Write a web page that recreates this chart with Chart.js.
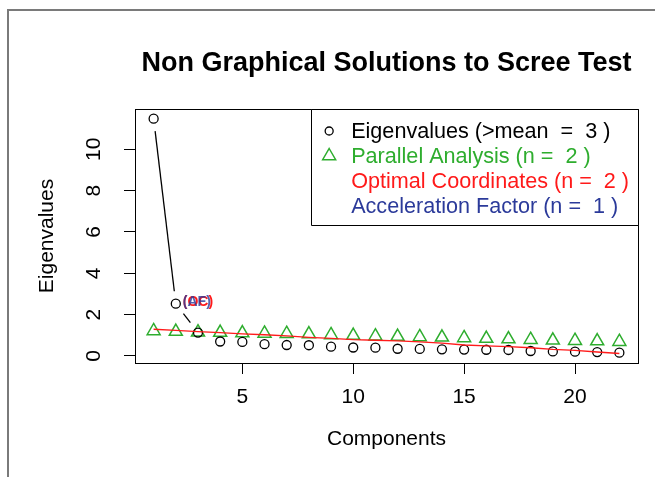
<!DOCTYPE html>
<html>
<head>
<meta charset="utf-8">
<script src="https://cdn.jsdelivr.net/npm/chart.js@4.4.1/dist/chart.umd.min.js"></script>
<style>
  html, body { margin: 0; padding: 0; background: #ffffff; }
  canvas { display: block; }
</style>
</head>
<body>
<canvas id="chart" width="655" height="477"></canvas>
<script>
// ---- Data ----
const components = [1, 2, 3, 4, 5, 6, 7, 8, 9, 10, 11, 12, 13, 14, 15, 16, 17, 18, 19, 20, 21, 22];
const eigenvalues = [11.48, 2.53, 1.13, 0.70, 0.68, 0.57, 0.53, 0.52, 0.45, 0.41, 0.40, 0.35, 0.34, 0.32, 0.31, 0.30, 0.29, 0.24, 0.22, 0.21, 0.19, 0.16];
const parallelAnalysis = [1.21, 1.18, 1.15, 1.13, 1.11, 1.09, 1.08, 1.06, 1.02, 0.99, 0.96, 0.94, 0.92, 0.90, 0.87, 0.84, 0.82, 0.79, 0.76, 0.74, 0.72, 0.69];
const optimalCoordinates = [1.29, 1.24, 1.18, 1.13, 1.07, 1.03, 0.97, 0.90, 0.85, 0.79, 0.76, 0.73, 0.68, 0.62, 0.53, 0.49, 0.45, 0.40, 0.32, 0.27, 0.19, 0.12];
const accelerationComponents = [1, 2, 3];
const xTicks = [5, 10, 15, 20];
const yTicks = [0, 2, 4, 6, 8, 10];
const titleText = "Non Graphical Solutions to Scree Test";
const xLabel = "Components";
const yLabel = "Eigenvalues";
const legendLabels = [
  "Eigenvalues (>mean  =  3 )",
  "Parallel Analysis (n =  2 )",
  "Optimal Coordinates (n =  2 )",
  "Acceleration Factor (n =  1 )"
];
const ocLabel = "(OC)";
const afLabel = "(AF)";
const labelComponent = 2;

// ---- Styling ----
const FONT = "'Liberation Sans', Arial, Helvetica, sans-serif";
const GREEN = "#2EAD2E";
const RED = "#FF1A1A";
const BLUE = "#2B3A9A";
const BLACK = "#000000";

const pts = (xs, ys) => xs.map((x, i) => ({ x: x, y: ys[i] }));

const framePlugin = {
  id: 'frame',
  beforeDraw(chart) {
    const ctx = chart.ctx;
    ctx.save();
    ctx.fillStyle = '#ffffff';
    ctx.fillRect(0, 0, chart.width, chart.height);
    ctx.strokeStyle = '#7a7a7a';
    ctx.lineWidth = 2;
    ctx.beginPath();
    ctx.moveTo(8, chart.height);
    ctx.lineTo(8, 10);
    ctx.lineTo(chart.width, 10);
    ctx.stroke();
    ctx.restore();
  }
};

const decorPlugin = {
  id: 'decor',
  afterDraw(chart) {
    const ctx = chart.ctx;
    const a = chart.chartArea;
    const xs = chart.scales.x, ys = chart.scales.y;
    const al = v => Math.round(v - 0.5) + 0.5;
    ctx.save();
    // plot box
    ctx.strokeStyle = BLACK;
    ctx.lineWidth = 1;
    ctx.strokeRect(al(a.left), al(a.top), al(a.right) - al(a.left), al(a.bottom) - al(a.top));

    // rotated y tick labels (R style)
    ctx.fillStyle = BLACK;
    ctx.font = "21px " + FONT;
    ctx.textAlign = 'center';
    ctx.textBaseline = 'alphabetic';
    ys.ticks.forEach(t => {
      const y = ys.getPixelForValue(t.value);
      ctx.save();
      ctx.translate(a.left - 35, y);
      ctx.rotate(-Math.PI / 2);
      ctx.fillText(String(t.value), 0, 0);
      ctx.restore();
    });

    // (OC) and (AF) labels next to the component they point to
    const lx = xs.getPixelForValue(labelComponent) + 7;
    const ly = ys.getPixelForValue(eigenvalues[labelComponent - 1]) - 2;
    ctx.font = "bold 14px " + FONT;
    ctx.textAlign = 'left';
    ctx.textBaseline = 'middle';
    ctx.fillStyle = RED;
    ctx.fillText(ocLabel, lx, ly);
    ctx.fillStyle = BLUE;
    ctx.globalAlpha = 0.8;
    ctx.fillText(afLabel, lx, ly);
    ctx.globalAlpha = 1;

    // legend (top right, inside plot)
    ctx.font = "21.6px " + FONT;
    const maxW = Math.max(...legendLabels.map(s => ctx.measureText(s).width));
    const textLeftPad = 40, rightPad = 9, rowH = 25, topPad = 22;
    const boxH = 116;
    const bx = a.right - rightPad - maxW - textLeftPad;
    ctx.strokeStyle = BLACK;
    ctx.lineWidth = 1;
    ctx.fillStyle = '#ffffff';
    ctx.beginPath();
    ctx.rect(al(bx), al(a.top), al(a.right) - al(bx), boxH);
    ctx.fill();
    ctx.stroke();
    const colors = [BLACK, GREEN, RED, BLUE];
    const symX = bx + 18;
    legendLabels.forEach((s, i) => {
      const cy = a.top + topPad + rowH * i + (i > 1 ? 0.5 : 0);
      ctx.fillStyle = colors[i];
      ctx.textAlign = 'left';
      ctx.textBaseline = 'middle';
      ctx.fillText(s, bx + textLeftPad, cy + 1);
      if (i === 0) {
        ctx.strokeStyle = BLACK; ctx.lineWidth = 1.3;
        ctx.beginPath(); ctx.arc(symX, cy, 4, 0, Math.PI * 2); ctx.stroke();
      } else if (i === 1) {
        const r = 7.5;
        ctx.strokeStyle = GREEN; ctx.lineWidth = 1.5;
        ctx.beginPath();
        ctx.moveTo(symX, cy - r);
        ctx.lineTo(symX + r * 0.866, cy + r * 0.5);
        ctx.lineTo(symX - r * 0.866, cy + r * 0.5);
        ctx.closePath(); ctx.stroke();
      }
    });
    ctx.restore();
  }
};

const GAP = 12.5;
new Chart(document.getElementById('chart'), {
  type: 'scatter',
  data: {
    datasets: [
      {
        label: 'OC',
        data: pts(components, optimalCoordinates),
        showLine: true,
        borderColor: RED,
        borderWidth: 1.4,
        pointRadius: 0,
        order: 1
      },
      {
        label: 'Eigenvalues',
        data: pts(components, eigenvalues),
        showLine: false,
        pointStyle: 'circle',
        pointRadius: 4.5,
        pointBorderWidth: 1.3,
        pointBorderColor: BLACK,
        pointBackgroundColor: 'rgba(0,0,0,0)',
        order: 2
      },
      {
        label: 'Parallel',
        data: pts(components, parallelAnalysis),
        showLine: false,
        pointStyle: 'triangle',
        pointRadius: 7.5,
        pointBorderWidth: 1.5,
        pointBorderColor: GREEN,
        pointBackgroundColor: 'rgba(0,0,0,0)',
        order: 3
      },
      {
        label: 'AF',
        data: pts(accelerationComponents, accelerationComponents.map(c => eigenvalues[c - 1])),
        showLine: true,
        borderColor: BLACK,
        borderWidth: 1.3,
        pointRadius: 0,
        order: 4,
        segment: {
          borderDash: ctx => {
            const L = Math.hypot(ctx.p1.x - ctx.p0.x, ctx.p1.y - ctx.p0.y);
            return [Math.max(L - 2 * GAP, 0.01), 2 * GAP];
          },
          borderDashOffset: ctx => {
            const L = Math.hypot(ctx.p1.x - ctx.p0.x, ctx.p1.y - ctx.p0.y);
            return L - GAP;
          }
        }
      }
    ]
  },
  options: {
    responsive: false,
    animation: false,
    devicePixelRatio: 1,
    layout: { padding: { left: 0, top: 0, right: 17, bottom: 0 } },
    plugins: {
      legend: { display: false },
      tooltip: { enabled: false },
      title: {
        display: true,
        text: titleText,
        fullSize: false,
        color: BLACK,
        font: { family: FONT, size: 27, weight: 'bold', lineHeight: 1.2 },
        padding: { top: 47, bottom: 29.6 }
      }
    },
    scales: {
      x: {
        type: 'linear',
        position: 'bottom',
        min: 0.16,
        max: 22.84,
        afterBuildTicks: s => { s.ticks = xTicks.map(v => ({ value: v })); },
        afterFit: s => { s.height = 114; },
        ticks: { color: BLACK, font: { family: FONT, size: 21 }, padding: 11, maxRotation: 0, autoSkip: false },
        grid: { drawOnChartArea: false, drawTicks: true, tickLength: 11, color: BLACK, lineWidth: 1 },
        border: { display: true, color: BLACK, width: 1 },
        title: { display: true, text: xLabel, color: BLACK, font: { family: FONT, size: 21, lineHeight: 1.2 }, padding: { top: 0, bottom: 24.8 } }
      },
      y: {
        type: 'linear',
        position: 'left',
        min: -0.34,
        max: 11.95,
        afterBuildTicks: s => { s.ticks = yTicks.map(v => ({ value: v })); },
        afterFit: s => { s.width = 135; },
        ticks: { color: 'rgba(0,0,0,0)', font: { family: FONT, size: 21 }, padding: 6, autoSkip: false },
        grid: { drawOnChartArea: false, drawTicks: true, tickLength: 11, color: BLACK, lineWidth: 1 },
        border: { display: true, color: BLACK, width: 1 },
        title: { display: true, text: yLabel, color: BLACK, font: { family: FONT, size: 21, lineHeight: 1.2 }, padding: { top: 34.8, bottom: 0 } }
      }
    }
  },
  plugins: [framePlugin, decorPlugin]
});
</script>
</body>
</html>
